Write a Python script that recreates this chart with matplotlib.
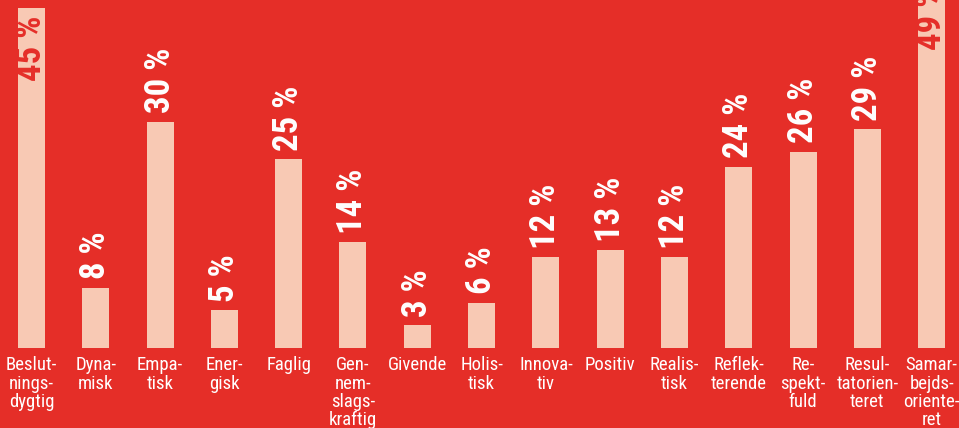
import matplotlib.pyplot as plt

# Danish survey: share of respondents picking each trait
categories = ["Beslut-\nnings-\ndygtig", "Dyna-\nmisk", "Empa-\ntisk", "Ener-\ngisk",
              "Faglig", "Gen-\nnem-\nslags-\nkraftig", "Givende", "Holis-\ntisk",
              "Innova-\ntiv", "Positiv", "Realis-\ntisk", "Reflek-\nterende",
              "Re-\nspekt-\nfuld", "Resul-\ntatorien-\nteret", "Samar-\nbejds-\noriente-\nret"]
values = [45, 8, 30, 5, 25, 14, 3, 6, 12, 13, 12, 24, 26, 29, 49]

RED = "#E52E28"
PINK = "#F8C9B4"
FONT = ["Roboto Condensed", "DejaVu Sans"]

fig = plt.figure(figsize=(9.59, 4.28), dpi=100, facecolor=RED)
ax = fig.add_axes([0, 80 / 428, 1, 348 / 428])
ax.set_facecolor(RED)

x = list(range(len(values)))
ax.bar(x, values, width=0.42, color=PINK, zorder=2)
ax.set_xlim(-0.49, 14.425)
ax.set_ylim(0, 46.1)

for i, v in enumerate(values):
    label = f"{v} %"
    if v >= 40:
        # tall bars run off the top, so the label sits inside
        ax.annotate(label, (i, v), xytext=(0, -5), textcoords="offset points",
                    rotation=90, ha="center", va="top", color=RED,
                    fontsize=25, fontweight="bold", family=FONT, fontstretch="condensed",
                    annotation_clip=False, zorder=3)
    else:
        ax.annotate(label, (i, v), xytext=(0, 6), textcoords="offset points",
                    rotation=90, ha="center", va="bottom", color="white",
                    fontsize=25, fontweight="bold", family=FONT, fontstretch="condensed",
                    annotation_clip=False, zorder=3)

ax.set_xticks(x)
ax.set_xticklabels(categories, color="white", fontsize=13.5, family=FONT,
                   fontstretch="condensed", linespacing=1.02, va="top")
ax.tick_params(axis="x", length=0, pad=6)
ax.set_yticks([])
for s in ax.spines.values():
    s.set_visible(False)

fig.savefig("out.png", dpi=100, facecolor=RED)
